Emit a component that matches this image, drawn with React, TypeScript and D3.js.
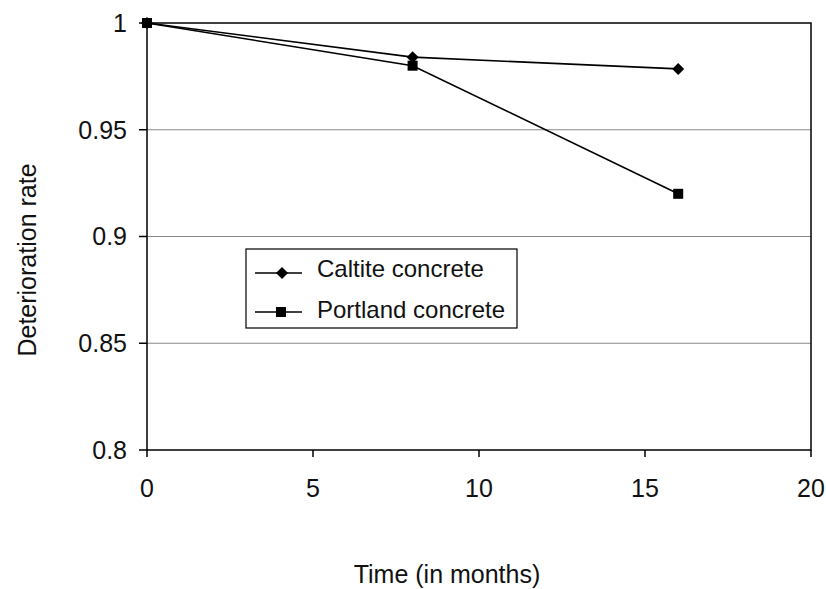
import React from 'react';
import * as d3 from 'd3';

const months = [0, 8, 16];
const caltite = [1, 0.984, 0.9785];
const portland = [1, 0.98, 0.92];
const xTicks = [0, 5, 10, 15, 20];
const yTicks = [0.8, 0.85, 0.9, 0.95, 1];

const W = 826;
const H = 589;
const font = 'Arial, "Liberation Sans", sans-serif';

const App: React.FC = () => {
  const x = d3.scaleLinear().domain([0, 20]).range([147, 811]);
  const y = d3.scaleLinear().domain([0.8, 1]).range([450, 23]);

  const line = d3.line<[number, number]>()
    .x(d => x(d[0]))
    .y(d => y(d[1]));

  const calPts = months.map((m, i) => [m, caltite[i]] as [number, number]);
  const porPts = months.map((m, i) => [m, portland[i]] as [number, number]);

  const diamond = (cx: number, cy: number, r = 6) =>
    `M${cx},${cy - r}L${cx + r},${cy}L${cx},${cy + r}L${cx - r},${cy}Z`;

  return (
    <div style={{ position: 'absolute', left: 0, top: 0 }}>
      <svg width={W} height={H} style={{ display: 'block', background: '#fff' }}>
        {/* grid */}
        {yTicks.filter(t => t > 0.8 && t < 1).map(t => (
          <line key={t} x1={x(0)} x2={x(20)} y1={y(t)} y2={y(t)} stroke="#888" strokeWidth={1.2} />
        ))}
        {/* frame */}
        <rect x={x(0)} y={y(1)} width={x(20) - x(0)} height={y(0.8) - y(1)} fill="none" stroke="#000" strokeWidth={1.5} />
        {/* y ticks */}
        {yTicks.map(t => (
          <g key={t}>
            <line x1={x(0) - 8} x2={x(0)} y1={y(t)} y2={y(t)} stroke="#000" strokeWidth={1.5} />
            <text x={127} y={y(t)} dy="0.35em" textAnchor="end" fontFamily={font} fontSize={25} fill="#111">
              {String(t)}
            </text>
          </g>
        ))}
        {/* x ticks */}
        {xTicks.map(t => (
          <g key={t}>
            <line x1={x(t)} x2={x(t)} y1={y(0.8)} y2={y(0.8) + 7} stroke="#000" strokeWidth={1.5} />
            <text x={x(t)} y={497} textAnchor="middle" fontFamily={font} fontSize={25} fill="#111">{t}</text>
          </g>
        ))}
        {/* series */}
        <path d={line(calPts) || ''} fill="none" stroke="#000" strokeWidth={1.6} />
        <path d={line(porPts) || ''} fill="none" stroke="#000" strokeWidth={1.6} />
        {calPts.map((p, i) => (
          <path key={'c' + i} d={diamond(x(p[0]), y(p[1]))} fill="#000" />
        ))}
        {porPts.map((p, i) => (
          <rect key={'p' + i} x={x(p[0]) - 5} y={y(p[1]) - 5} width={10} height={10} fill="#000" />
        ))}
        {/* legend */}
        <rect x={246} y={249} width={271} height={79} fill="#fff" stroke="#000" strokeWidth={1.2} />
        <line x1={255} x2={302} y1={273} y2={273} stroke="#000" strokeWidth={1.6} />
        <path d={diamond(282, 273)} fill="#000" />
        <text x={317} y={277} fontFamily={font} fontSize={24} fill="#111">Caltite concrete</text>
        <line x1={255} x2={302} y1={312} y2={312} stroke="#000" strokeWidth={1.6} />
        <rect x={276} y={307} width={10} height={10} fill="#000" />
        <text x={317} y={318} fontFamily={font} fontSize={24} fill="#111">Portland concrete</text>
        {/* axis titles */}
        <text x={447} y={583} textAnchor="middle" fontFamily={font} fontSize={25} fill="#111">Time (in months)</text>
        <text transform={`translate(36,260) rotate(-90)`} textAnchor="middle" fontFamily={font} fontSize={25} fill="#111">Deterioration rate</text>
      </svg>
    </div>
  );
};

export default App;
